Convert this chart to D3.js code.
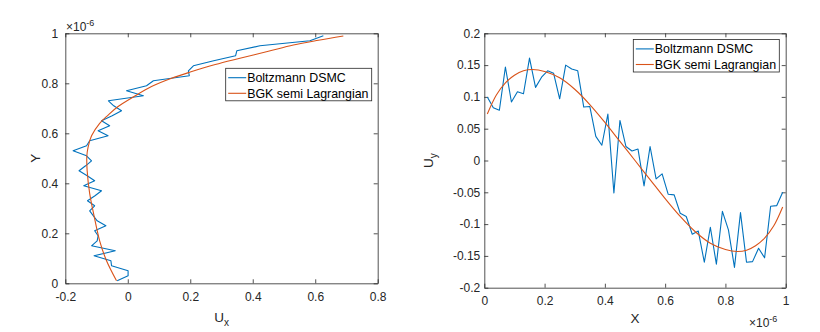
<!DOCTYPE html>
<html>
<head>
<meta charset="utf-8">
<script src="https://cdn.jsdelivr.net/npm/d3@7"></script>
<style>
    body { margin: 0; background: #fff; }
    svg { display: block; font-family: "Liberation Sans", Arial, sans-serif; }
    .axis text { font-size: 12px; fill: #262626; }
    .axis path, .axis line { stroke: #262626; stroke-width: 0.8; }
</style>
</head>
<body>
<svg class="chart" width="820" height="332"></svg>
<script>
// sample positions (x 1e-6) shared by both DSMC series
var gridPos = [0.01, 0.03, 0.05, 0.07, 0.09, 0.11, 0.13, 0.15, 0.17, 0.19,
               0.21, 0.23, 0.25, 0.27, 0.29, 0.31, 0.33, 0.35, 0.37, 0.39,
               0.41, 0.43, 0.45, 0.47, 0.49, 0.51, 0.53, 0.55, 0.57, 0.59,
               0.61, 0.63, 0.65, 0.67, 0.69, 0.71, 0.73, 0.75, 0.77, 0.79,
               0.81, 0.83, 0.85, 0.87, 0.89, 0.91, 0.93, 0.95, 0.97, 0.99];

// left panel: Ux against Y
var leftDsmcUx = [-0.034, 0.001, 0.001, -0.052, -0.054, -0.108, -0.040, -0.116, -0.098, -0.095,
                  -0.106, -0.070, -0.098, -0.110, -0.122, -0.106, -0.129, -0.105, -0.084, -0.141,
                  -0.106, -0.130, -0.156, -0.135, -0.116, -0.132, -0.175, -0.132, -0.122, -0.063,
                  -0.095, -0.058, -0.084, -0.050, -0.020, -0.045, -0.062, 0.050, -0.004, 0.060,
                  0.082, 0.197, 0.194, 0.210, 0.275, 0.345, 0.349, 0.423, 0.583, 0.626];
var leftBgkY  = [0.01, 0.09, 0.17, 0.27, 0.36, 0.45, 0.51, 0.545, 0.59, 0.64, 0.673,
                 0.707, 0.747, 0.787, 0.82, 0.845, 0.875, 0.90, 0.928, 0.953, 0.972, 0.989];
var leftBgkUx = [-0.036, -0.068, -0.090, -0.108, -0.122, -0.130, -0.131, -0.127, -0.116, -0.090, -0.063,
                 -0.031, 0.020, 0.076, 0.140, 0.200, 0.280, 0.359, 0.450, 0.530, 0.610, 0.690];

// right panel: Uy against X
var rightDsmcUy = [0.100, 0.083, 0.079, 0.147, 0.092, 0.108, 0.105, 0.161, 0.115, 0.131,
                   0.141, 0.137, 0.097, 0.150, 0.144, 0.141, 0.084, 0.085, 0.038, 0.024,
                   0.073, -0.051, 0.063, 0.022, 0.015, 0.018, -0.040, 0.022, -0.029, -0.021,
                   -0.053, -0.054, -0.083, -0.088, -0.116, -0.111, -0.160, -0.105, -0.163, -0.080,
                   -0.109, -0.168, -0.082, -0.160, -0.159, -0.138, -0.153, -0.072, -0.071, -0.050];
var rightBgkX  = [0.01, 0.04, 0.07, 0.10, 0.13, 0.16, 0.20, 0.25, 0.30, 0.35, 0.40, 0.45, 0.50,
                  0.55, 0.60, 0.65, 0.70, 0.75, 0.80, 0.84, 0.87, 0.90, 0.93, 0.96, 0.99];
var rightBgkUy = [0.073, 0.103, 0.122, 0.134, 0.141, 0.143, 0.140, 0.130, 0.112, 0.088, 0.060, 0.030, 0.000,
                  -0.030, -0.060, -0.088, -0.112, -0.130, -0.140, -0.143, -0.141, -0.134, -0.122, -0.103, -0.073];

var seriesNames = ["Boltzmann DSMC", "BGK semi Lagrangian"];
var seriesColors = ["#0072BD", "#D95319"];

var leftXTicks = [-0.2, 0, 0.2, 0.4, 0.6, 0.8];
var leftYTicks = [0, 0.2, 0.4, 0.6, 0.8, 1];
var rightXTicks = [0, 0.2, 0.4, 0.6, 0.8, 1];
var rightYTicks = [-0.2, -0.15, -0.1, -0.05, 0, 0.05, 0.1, 0.15, 0.2];

(function() {
    var svg = d3.select(".chart");
    var fmt = function(d) { return String(+d.toFixed(2)); };

    function drawPanel(p) {
        var x = d3.scaleLinear().domain(p.xDomain).range([p.left, p.right]);
        var y = d3.scaleLinear().domain(p.yDomain).range([p.bottom, p.top]);
        var g = svg.append("g");

        g.append("g").attr("class", "axis")
            .attr("transform", "translate(0," + p.bottom + ")")
            .call(d3.axisBottom(x).tickValues(p.xTicks).tickFormat(fmt)
                  .tickSizeInner(-4).tickSizeOuter(0).tickPadding(9));
        g.append("g").attr("class", "axis")
            .attr("transform", "translate(0," + p.top + ")")
            .call(d3.axisTop(x).tickValues(p.xTicks).tickFormat("")
                  .tickSizeInner(-4).tickSizeOuter(0));
        g.append("g").attr("class", "axis")
            .attr("transform", "translate(" + p.left + ",0)")
            .call(d3.axisLeft(y).tickValues(p.yTicks).tickFormat(fmt)
                  .tickSizeInner(-4).tickSizeOuter(0).tickPadding(p.yPad));
        g.append("g").attr("class", "axis")
            .attr("transform", "translate(" + p.right + ",0)")
            .call(d3.axisRight(y).tickValues(p.yTicks).tickFormat("")
                  .tickSizeInner(-4).tickSizeOuter(0));

        var line = d3.line()
            .x(function(d) { return x(d[0]); })
            .y(function(d) { return y(d[1]); });

        g.append("path")
            .datum(p.dsmc)
            .attr("fill", "none")
            .attr("stroke", seriesColors[0])
            .attr("stroke-width", 1.1)
            .attr("stroke-linejoin", "round")
            .attr("d", line);

        g.append("path")
            .datum(p.bgk)
            .attr("fill", "none")
            .attr("stroke", seriesColors[1])
            .attr("stroke-width", 1.1)
            .attr("d", line.curve(d3.curveCatmullRom));

        // legend
        var lg = g.append("g").attr("transform", "translate(" + p.legend[0] + "," + p.legend[1] + ")");
        lg.append("rect")
            .attr("width", 146).attr("height", 32.5)
            .attr("fill", "#fff").attr("stroke", "#262626").attr("stroke-width", 0.8);
        var item = lg.selectAll("g.item")
            .data(seriesNames)
            .enter().append("g")
            .attr("class", "item")
            .attr("transform", function(d, i) { return "translate(0," + (9.4 + i * 15.6) + ")"; });
        item.append("line")
            .attr("x1", 2.5).attr("x2", 20.5)
            .attr("stroke", function(d, i) { return seriesColors[i]; })
            .attr("stroke-width", 1.1);
        item.append("text")
            .attr("x", 21.5).attr("dy", "0.36em")
            .style("font-size", "12.4px").style("fill", "#000")
            .text(function(d) { return d; });

        // exponent note
        var ex = g.append("text")
            .attr("x", p.expo[0]).attr("y", p.expo[1])
            .style("font-size", "12px").style("fill", "#262626");
        ex.append("tspan").text("\u00d710");
        ex.append("tspan").attr("dy", -5).style("font-size", "9px").text("-6");

        return g;
    }

    var left = drawPanel({
        left: 65.3, right: 377.7, top: 33.3, bottom: 283.3,
        xDomain: [-0.2, 0.8], yDomain: [0, 1],
        xTicks: leftXTicks, yTicks: leftYTicks, yPad: 7,
        dsmc: leftDsmcUx.map(function(v, i) { return [v, gridPos[i]]; }),
        bgk: leftBgkUx.map(function(v, i) { return [v, leftBgkY[i]]; }),
        legend: [225.7, 68.3], expo: [66, 31]
    });
    var right = drawPanel({
        left: 484.3, right: 785.7, top: 33.3, bottom: 287.7,
        xDomain: [0, 1], yDomain: [-0.2, 0.2],
        xTicks: rightXTicks, yTicks: rightYTicks, yPad: 4,
        dsmc: rightDsmcUy.map(function(v, i) { return [gridPos[i], v]; }),
        bgk: rightBgkUy.map(function(v, i) { return [rightBgkX[i], v]; }),
        legend: [633.3, 39.5], expo: [749, 327]
    });

    // axis labels
    var ux = left.append("text")
        .attr("x", 221.5).attr("y", 322)
        .attr("text-anchor", "middle")
        .style("font-size", "13.5px").style("fill", "#262626");
    ux.append("tspan").text("U");
    ux.append("tspan").attr("dy", 4).style("font-size", "10px").text("x");

    left.append("text")
        .attr("transform", "translate(40,158.3) rotate(-90)")
        .attr("text-anchor", "middle")
        .style("font-size", "13.5px").style("fill", "#262626")
        .text("Y");

    right.append("text")
        .attr("x", 635).attr("y", 323)
        .attr("text-anchor", "middle")
        .style("font-size", "13.5px").style("fill", "#262626")
        .text("X");

    var uy = right.append("text")
        .attr("transform", "translate(433,160.5) rotate(-90)")
        .attr("text-anchor", "middle")
        .style("font-size", "13.5px").style("fill", "#262626");
    uy.append("tspan").text("U");
    uy.append("tspan").attr("dy", 4).style("font-size", "10px").text("y");
})();
</script>
</body>
</html>
